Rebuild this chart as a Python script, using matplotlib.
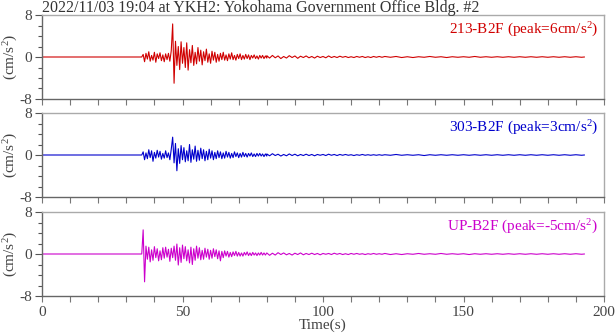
import numpy as np
import matplotlib
matplotlib.use("Agg")
import matplotlib.pyplot as plt
from matplotlib.ticker import MultipleLocator

plt.rcParams["font.family"] = ["Liberation Serif", "DejaVu Serif"]
plt.rcParams["mathtext.fontset"] = "custom"
plt.rcParams["mathtext.rm"] = "Liberation Serif"
plt.rcParams["mathtext.default"] = "regular"

title = "2022/11/03 19:04 at YKH2: Yokohama Government Office Bldg. #2"
channels = ["213-B2F", "303-B2F", "UP-B2F"]
peaks = [6, 3, -5]
colors = ["#d00000", "#0000cc", "#cc00cc"]

# segment start times (s), sample steps 0.5 / 1 / 2 s
t_onset = 35.5
t_mid = 80.0
t_tail = 122.0
t_end = 193.0

# 35.5 - 80 s, every 0.5 s
acc_213_a = [0, 0.5, -0.9, 0.7, -0.4, 1.0, -0.8, 0.3, -0.6, 0.9, -1.0, 0.6, -0.3, 0.8, -0.7,
             0.4, -0.9, 0.6, -0.5, 0.7, -0.8, 1.2, 6.3, -5.0, 3.0, -1.6, 2.0, -2.4, 2.9, -1.2,
             1.8, -2.0, 2.7, -2.5, 1.4, -1.1, 2.2, -1.6, 0.9, -1.3, 1.8, -0.8, 1.3, -1.5, 1.0,
             -0.7, 1.5, -1.0, 0.6, -1.2, 1.1, -0.6, 0.9, -1.0, 0.5, -0.8, 0.7, -0.5, 0.9, -0.6,
             0.4, -0.7, 0.6, -0.4, 0.8, -0.5, 0.3, -0.6, 0.5, -0.3, 0.6, -0.5, 0.3, -0.4, 0.5,
             -0.3, 0.4, -0.5, 0.3, -0.2, 0.4, -0.3, 0.2, -0.4, 0.3, -0.2, 0.3, -0.3, 0.2, -0.2]
acc_303_a = [0, 0.6, -0.9, 0.4, -0.7, 1.0, -0.5, 0.8, -1.2, 0.5, -0.6, 0.9, -0.4, 0.7, -0.8,
             0.3, -0.6, 0.8, -0.5, 0.4, -0.9, 1.1, 3.4, -1.5, 2.2, -3.0, 1.2, -1.6, 1.8, -0.9,
             1.4, -1.3, 0.8, -1.1, 2.0, -1.4, 1.0, -0.8, 1.7, -1.2, 0.9, -1.0, 1.3, -0.7, 1.0,
             -1.1, 0.7, -0.9, 1.1, -0.6, 0.8, -0.9, 0.5, -0.7, 0.8, -0.5, 0.6, -0.7, 0.4, -0.6,
             0.7, -0.4, 0.5, -0.6, 0.3, -0.5, 0.6, -0.3, 0.4, -0.5, 0.3, -0.4, 0.5, -0.3, 0.3,
             -0.4, 0.3, -0.2, 0.4, -0.3, 0.2, -0.3, 0.3, -0.2, 0.3, -0.2, 0.2, -0.3, 0.2, -0.2]
acc_up_a = [0, 4.6, -5.3, 1.5, -1.0, 1.3, -1.5, 0.8, -1.2, 1.4, -0.7, 1.0, -1.3, 0.6, -1.1,
            1.2, -0.8, 1.3, -0.6, 0.9, -1.4, 1.1, -0.7, 1.5, -1.2, 1.9, -2.1, 1.2, -1.6, 1.7,
            -0.9, 1.4, -1.3, 0.8, -1.7, 1.3, -2.0, 1.0, -1.2, 1.5, -0.8, 1.2, -1.1, 0.7, -1.0,
            1.1, -0.6, 0.9, -1.0, 0.7, -0.8, 1.0, -0.5, 0.8, -0.9, 0.6, -1.3, 0.5, -0.7, 0.6,
            -0.4, 0.5, -0.6, 0.3, -0.5, 0.4, -0.3, 0.5, -0.4, 0.3, -0.4, 0.2, -0.4, 0.3, -0.2,
            0.4, -0.3, 0.2, -0.3, 0.3, -0.2, 0.2, -0.3, 0.2, -0.2, 0.3, -0.2, 0.2, -0.2, 0.2]

# 80 - 121 s, every 1 s
acc_213_b = [0.25, -0.2, 0.3, -0.15, 0.2, -0.3, 0.1, -0.2, 0.25, -0.1, 0.2, -0.25, 0.15,
             -0.1, 0.2, -0.15, 0.1, -0.2, 0.15, -0.1, 0.1, -0.15, 0.2, -0.1, 0.1, -0.1, 0.15,
             -0.05, 0.1, -0.1, 0.05, -0.1, 0.1, -0.05, 0.1, -0.1, 0.05, -0.1, 0.1, -0.05, 0.1,
             -0.05]
acc_303_b = [0.2, -0.15, 0.25, -0.1, 0.15, -0.2, 0.1, -0.15, 0.2, -0.1, 0.15, -0.15, 0.1,
             -0.1, 0.15, -0.1, 0.1, -0.15, 0.1, -0.05, 0.1, -0.1, 0.15, -0.05, 0.1, -0.1, 0.1,
             -0.05, 0.1, -0.05, 0.05, -0.1, 0.05, -0.05, 0.1, -0.05, 0.05, -0.05, 0.05, -0.05,
             0.05, -0.05]
acc_up_b = [0.2, -0.25, 0.15, -0.2, 0.25, -0.1, 0.2, -0.15, 0.1, -0.2, 0.15, -0.1, 0.2,
            -0.15, 0.1, -0.1, 0.15, -0.1, 0.1, -0.15, 0.1, -0.05, 0.1, -0.1, 0.15, -0.05, 0.1,
            -0.1, 0.05, -0.1, 0.1, -0.05, 0.1, -0.05, 0.05, -0.1, 0.05, -0.05, 0.1, -0.05,
            0.05, -0.05]

# 122 - 192 s, every 2 s
acc_213_c = [0.1, -0.05, 0.1, -0.1, 0.05, -0.1, 0.05, -0.05, 0.1, -0.05, 0.05, -0.1, 0.05,
             -0.05, 0.05, -0.05, 0.1, -0.05, 0.05, -0.05, 0.05, -0.05, 0.05, -0.05, 0.05,
             -0.05, 0.05, -0.05, 0.05, -0.05, 0.05, -0.05, 0.05, -0.05, 0.05, -0.05]
acc_303_c = [0.05, -0.05, 0.1, -0.05, 0.05, -0.05, 0.05, -0.1, 0.05, -0.05, 0.05, -0.05,
             0.05, -0.05, 0.05, -0.05, 0.05, -0.05, 0.05, -0.05, 0.05, -0.05, 0.05, -0.05,
             0.05, -0.05, 0.05, -0.05, 0.05, -0.05, 0.05, -0.05, 0.05, -0.05, 0.05, -0.05]
acc_up_c = [0.1, -0.1, 0.05, -0.1, 0.05, -0.05, 0.1, -0.05, 0.05, -0.05, 0.1, -0.05, 0.05,
            -0.05, 0.05, -0.1, 0.05, -0.05, 0.05, -0.05, 0.05, -0.05, 0.05, -0.05, 0.05,
            -0.05, 0.05, -0.05, 0.05, -0.05, 0.05, -0.05, 0.05, -0.05, 0.05, -0.05]

records = [(acc_213_a, acc_213_b, acc_213_c),
           (acc_303_a, acc_303_b, acc_303_c),
           (acc_up_a, acc_up_b, acc_up_c)]


def build_trace(seg_a, seg_b, seg_c):
    t = np.concatenate([[0.0],
                        t_onset + 0.5 * np.arange(len(seg_a)),
                        t_mid + 1.0 * np.arange(len(seg_b)),
                        t_tail + 2.0 * np.arange(len(seg_c)),
                        [t_end]])
    v = np.concatenate([[0.0], seg_a, seg_b, seg_c, [0.0]])
    return t, v


fig = plt.figure(figsize=(6.16, 3.34), dpi=100)
left = 42 / 616
width = (604 - 42) / 616
tops = [15, 113, 212]
height = 84 / 334

for i, (rec, name, peak, col) in enumerate(zip(records, channels, peaks, colors)):
    ax = fig.add_axes([left, 1 - (tops[i] + 84) / 334, width, height])
    t, v = build_trace(*rec)
    ax.plot(t, v, color=col, lw=0.8)
    ax.set_xlim(0, 200)
    ax.set_ylim(-8, 8)
    ax.set_yticks([-8, 0, 8])
    ax.set_yticklabels(["-8", "0", "8"])
    ax.yaxis.set_minor_locator(MultipleLocator(2))
    ax.xaxis.set_major_locator(MultipleLocator(50))
    ax.xaxis.set_minor_locator(MultipleLocator(10))
    ax.tick_params(axis="y", which="major", direction="out", length=5, width=0.8,
                   color="#555555", labelsize=11, labelcolor="#444444", pad=2)
    ax.tick_params(axis="y", which="minor", direction="out", length=3, width=0.8,
                   color="#555555")
    ax.tick_params(axis="x", which="both", direction="out", length=4, width=0.8,
                   color="#777777", labelsize=11, labelcolor="#444444", pad=3)
    for side in ["left", "bottom"]:
        ax.spines[side].set_color("#666666")
        ax.spines[side].set_linewidth(1.0)
    for side in ["top", "right"]:
        ax.spines[side].set_color("#aaaaaa")
        ax.spines[side].set_linewidth(1.0)
    if i < 2:
        ax.tick_params(axis="x", labelbottom=False)
    else:
        ax.set_xlabel("Time(s)", fontsize=11, color="#444444", labelpad=0)
    ax.set_ylabel("(cm/s$^{2}$)", fontsize=11, color="#444444", labelpad=0)
    ax.text(0.99, 0.93, "%s (peak=%dcm/s$^{2}$)" % (name, peak), transform=ax.transAxes,
            ha="right", va="top", color=col, fontsize=11)

fig.text(42 / 616, 0.999, title, ha="left", va="top", fontsize=11.5,
         color="#333333")

fig.savefig("out.png", dpi=100)
